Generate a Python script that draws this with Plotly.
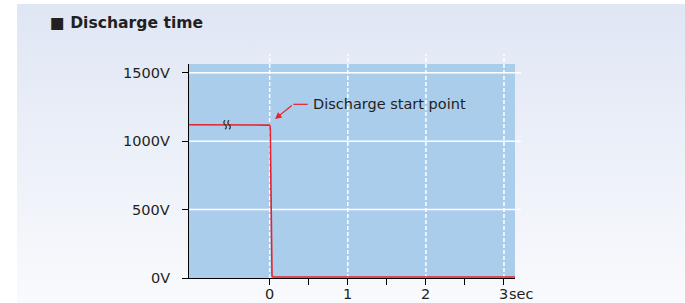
import base64
import plotly.graph_objects as go

# ---------------- data ----------------
TIME_S = [-1.033, -0.02, 0.0, 0.007, 0.022, 0.03, 0.045, 3.141]
VOLTAGE_V = [1120, 1120, 1117, 1100, 60, 15, 7, 7]

X_TICKS = [0, 0.5, 1, 1.5, 2, 2.5, 3]
X_LABEL_VALUES = [0, 1, 2, 3]
X_LABELS = ["0", "1", "2", "3"]
X_UNIT = "sec"
Y_TICKS = [0, 500, 1000, 1500]
Y_LABELS = ["0V", "500V", "1000V", "1500V"]

TITLE = "■ Discharge time"
NOTE_TEXT = "Discharge start point"
NOTE_TIP = (0.068, 1162)
NOTE_ELBOW = (0.302, 1269)
NOTE_END = (0.487, 1269)
BREAK_MARK = (-0.545, 1120)

X_RANGE = [-1.033, 3.141]
Y_RANGE = [0, 1563.6]

# ---------------- layout geometry ----------------
W, H = 685, 303
ML, MR, MT, MB = 189, 170, 64, 25
PW, PH = W - ML - MR, H - MT - MB


def px_x(px):
    return (px - ML) / PW


def px_y(py):
    return (H - MB - py) / PH


FONT = "DejaVu Sans"
TXT = "#231f20"
RED = "#e8212b"
BLUE = "#abcdec"

svg = (
    '<svg xmlns="http://www.w3.org/2000/svg" width="100" height="100" viewBox="0 0 100 100" '
    'preserveAspectRatio="none"><defs><linearGradient id="g" x1="0" y1="0" x2="0" y2="1">'
    '<stop offset="0" stop-color="#dfe6f4"/><stop offset="1" stop-color="#f9fafd"/>'
    '</linearGradient></defs><rect width="100" height="100" fill="url(#g)"/></svg>'
)
svg_uri = "data:image/svg+xml;base64," + base64.b64encode(svg.encode()).decode()

fig = go.Figure()
fig.add_trace(go.Scatter(x=TIME_S, y=VOLTAGE_V, mode="lines",
                         line=dict(color=RED, width=1.6), hoverinfo="skip",
                         cliponaxis=False, showlegend=False))

shapes = []
# plot background
shapes.append(dict(type="rect", xref="paper", yref="paper", x0=0, x1=1, y0=0, y1=1,
                   fillcolor=BLUE, line=dict(width=0), layer="below"))
# horizontal grid (extends right past plot)
for yv in Y_TICKS[1:]:
    shapes.append(dict(type="line", xref="paper", yref="y", x0=0, x1=px_x(521),
                       y0=yv, y1=yv, line=dict(color="white", width=1.5), layer="below"))
# vertical dashed grid (extends above plot)
for xv in X_LABEL_VALUES:
    shapes.append(dict(type="line", xref="x", yref="paper", x0=xv, x1=xv,
                       y0=0, y1=px_y(54), line=dict(color="white", width=1.5, dash="4px,2px"),
                       layer="below"))
# annotation leader horizontal
shapes.append(dict(type="line", xref="x", yref="y", x0=NOTE_ELBOW[0], x1=NOTE_END[0],
                   y0=NOTE_ELBOW[1], y1=NOTE_END[1], line=dict(color=RED, width=1.2)))
# axis-break mark (two small vertical wiggles, pixel-sized, anchored on the line)
for dx in (-2.0, 2.0):
    path = f"M {dx},-4.5 Q {dx + 2.6},-2.2 {dx},0 Q {dx - 2.6},2.2 {dx},4.5"
    shapes.append(dict(type="path", xref="x", yref="y", xsizemode="pixel", ysizemode="pixel",
                       xanchor=BREAK_MARK[0], yanchor=BREAK_MARK[1], path=path,
                       line=dict(color="#3a3a3a", width=1.3)))

annotations = []
annotations.append(dict(xref="paper", yref="paper", x=px_x(48), y=px_y(22.5), xanchor="left",
                        yanchor="middle", text="<b>" + TITLE + "</b>", showarrow=False,
                        font=dict(family=FONT, size=15.6, color=TXT)))
for xv, lab in zip(X_LABEL_VALUES, X_LABELS):
    annotations.append(dict(xref="x", yref="paper", x=xv, y=px_y(294), xanchor="center",
                            yanchor="middle", text=lab, showarrow=False,
                            font=dict(family=FONT, size=14.5, color=TXT)))
annotations.append(dict(xref="x", yref="paper", x=X_LABEL_VALUES[-1], y=px_y(294), xanchor="left",
                        yanchor="middle", text=X_UNIT, showarrow=False, xshift=3,
                        font=dict(family=FONT, size=14.5, color=TXT)))
for yv, lab in zip(Y_TICKS, Y_LABELS):
    annotations.append(dict(xref="paper", yref="y", x=px_x(172), y=yv, xanchor="right",
                            yanchor="middle", text=lab, showarrow=False,
                            font=dict(family=FONT, size=14.5, color=TXT)))
# arrow
annotations.append(dict(xref="x", yref="y", x=NOTE_TIP[0], y=NOTE_TIP[1],
                        axref="x", ayref="y", ax=NOTE_ELBOW[0], ay=NOTE_ELBOW[1],
                        text="", showarrow=True, arrowhead=2, arrowsize=1.1, arrowwidth=1.2,
                        arrowcolor=RED, standoff=0, startstandoff=0))
annotations.append(dict(xref="x", yref="y", x=NOTE_END[0], y=NOTE_END[1], xanchor="left",
                        yanchor="middle", xshift=3, text=NOTE_TEXT, showarrow=False,
                        font=dict(family=FONT, size=14.5, color=TXT)))

fig.update_layout(
    width=W, height=H,
    margin=dict(l=ML, r=MR, t=MT, b=MB, pad=0),
    paper_bgcolor="white", plot_bgcolor="rgba(0,0,0,0)",
    showlegend=False,
    shapes=shapes, annotations=annotations,
    images=[dict(source=svg_uri, xref="paper", yref="paper", x=px_x(17), y=px_y(4),
                 sizex=(W - 17) / PW, sizey=(H - 4) / PH, xanchor="left", yanchor="top",
                 sizing="stretch", layer="below")],
    xaxis=dict(range=X_RANGE, tickvals=X_TICKS, ticktext=[""] * len(X_TICKS),
               ticks="outside", ticklen=6, tickwidth=1.3, tickcolor="black",
               showgrid=False, zeroline=False, showline=True, linecolor="black", linewidth=1.3,
               fixedrange=True),
    yaxis=dict(range=Y_RANGE, tickvals=Y_TICKS, ticktext=[""] * len(Y_TICKS),
               ticks="outside", ticklen=6, tickwidth=1.3, tickcolor="black",
               showgrid=False, zeroline=False, showline=True, linecolor="black", linewidth=1.3,
               fixedrange=True),
)

fig.write_html("out.html", config={"displayModeBar": False},
               post_script="document.body.style.margin='0';document.body.style.overflow='hidden';")
